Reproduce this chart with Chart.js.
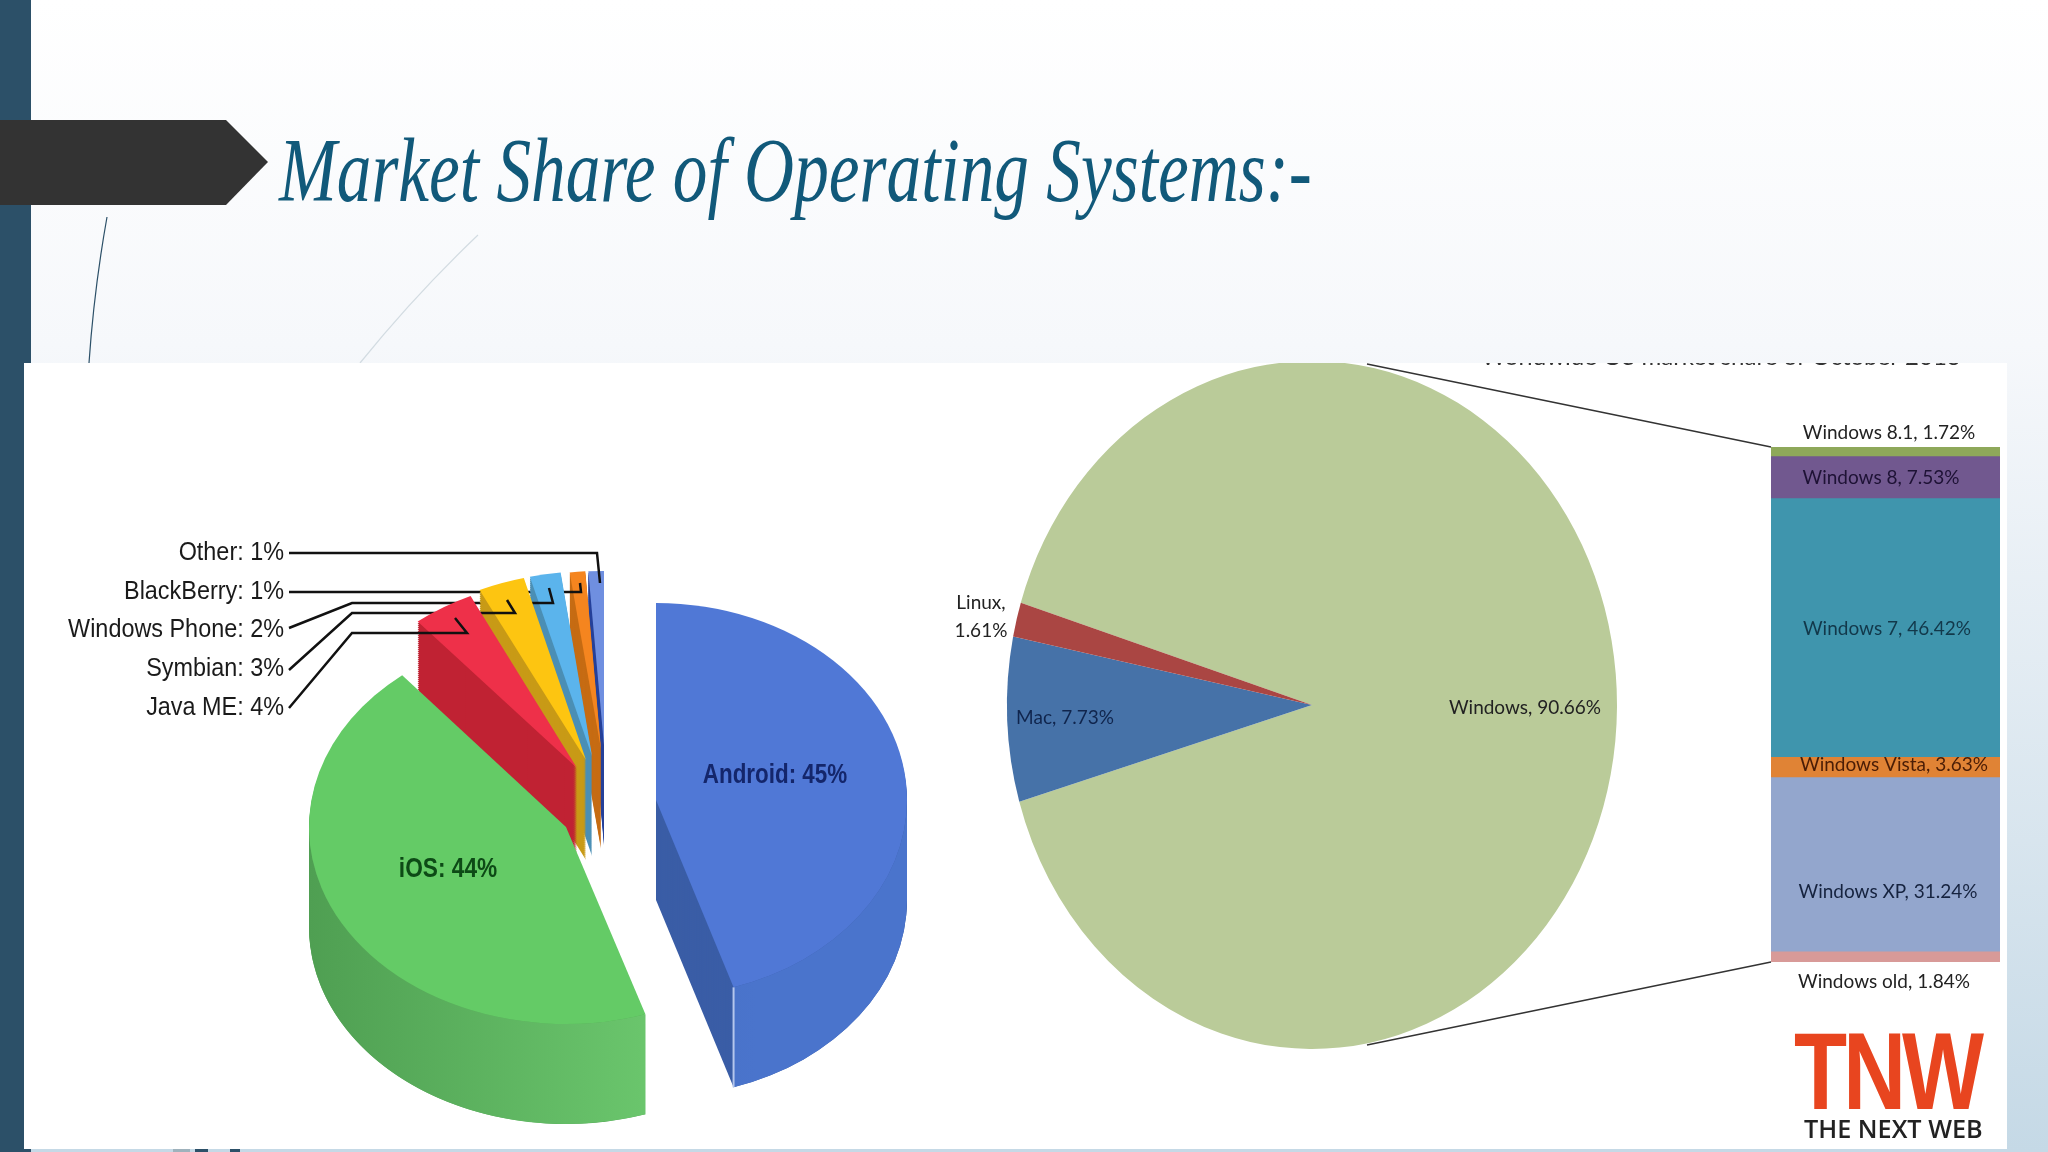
<!DOCTYPE html>
<html lang="en">
<head>
<meta charset="UTF-8">
<title>Market Share of Operating Systems</title>
<script src="https://cdn.jsdelivr.net/npm/chart.js"></script>
<style>
    html, body { margin: 0; padding: 0; width: 2048px; height: 1152px; overflow: hidden; }
    body { position: relative; background: linear-gradient(180deg, #ffffff 0, #f6f8fb 30%, #c5d9e6 100%); }
    .abs { position: absolute; }
    #decor { left: 0; top: 0; }
    #card { left: 24px; top: 363px; width: 1983px; height: 786px; background: #fff; }
    #title {
        left: 279px; top: 126px; white-space: nowrap; color: #11597a;
        font: italic 90px/90px "Liberation Serif", serif;
        transform: scaleX(0.77); transform-origin: left top;
    }
    #tnw {
        left: 1794px; top: 1016px; color: #e8451f; white-space: nowrap;
        font: bold 110px/110px "Liberation Sans", sans-serif; letter-spacing: -5px;
        transform: scaleX(0.79); transform-origin: left top;
    }
    #tnw-sub {
        left: 1804px; top: 1111px; color: #222; white-space: nowrap;
        font: 600 26px/34px "Open Sans", sans-serif;
        transform: scaleX(0.97); transform-origin: left top;
    }
    canvas { position: absolute; }
</style>
</head>
<body>
    <svg id="decor" class="abs" width="2048" height="1152">
        <rect x="0" y="0" width="31" height="1152" fill="#2c5068"/>
        <polygon points="0,120 226,120 268,162 226,205 0,205" fill="#333333"/>
        <path d="M107 217 Q94 290 89 363" stroke="#2c5068" stroke-width="1.2" fill="none"/>
        <path d="M478 235 Q415 295 360 363" stroke="#d3dce2" stroke-width="1.2" fill="none"/>
        <rect x="173" y="1149" width="17" height="3" fill="#9fb2bc"/>
        <rect x="195" y="1149" width="13" height="3" fill="#2c5068"/>
        <rect x="230" y="1149" width="10" height="3" fill="#2c5068"/>
    </svg>
    <div id="card" class="abs"></div>
    <div id="title" class="abs">Market Share of Operating Systems:-</div>

    <canvas id="mobileChart" width="900" height="786" style="left:24px;top:363px"></canvas>
    <canvas id="desktopChart" width="740" height="786" style="left:924px;top:363px"></canvas>
    <canvas id="windowsChart" width="647" height="786" style="left:1360px;top:363px"></canvas>

    <div id="tnw" class="abs">TNW</div>
    <div id="tnw-sub" class="abs">THE NEXT WEB</div>

<script>
    // --- data ---
    const mobileNames = ['Android', 'iOS', 'Java ME', 'Symbian', 'Windows Phone', 'BlackBerry', 'Other'];
    const mobileValues = [45, 44, 4, 3, 2, 1, 1];
    const desktopNames = ['Windows', 'Mac', 'Linux'];
    const desktopValues = [90.66, 7.73, 1.61];
    const windowsNames = ['Windows old', 'Windows XP', 'Windows Vista', 'Windows 7', 'Windows 8', 'Windows 8.1'];
    const windowsValues = [1.84, 31.24, 3.63, 46.42, 7.53, 1.72];

    // --- colours and look ---
    const mobileColors = ['#5078d6', '#64cb66', '#ee3049', '#fdc511', '#5bb4ec', '#f5851f', '#6f8fe0'];
    const desktopColors = ['#bacb99', '#4672a8', '#aa4643'];
    const windowsColors = ['#d89a98', '#93a6cd', '#e08335', '#3f95ad', '#71588f', '#8ea85a'];

    // the left pie is exploded and tilted, every slice sits on its own spot (page coords)
    const OX = 24, OY = 363;
    const mobileFaces = [
        { i: 6, cx: 604, cy: 745, rx: 250, ry: 174, side: '#27409a', rim: '#27409a',
          leader: [[289, 553], [597, 553], [600, 583]] },
        { i: 5, cx: 601, cy: 749, rx: 250, ry: 178, side: '#c66c14', rim: '#c66c14',
          leader: [[289, 592], [581, 592], [580, 583]] },
        { i: 4, cx: 592, cy: 756, rx: 250, ry: 185, side: '#4b8fb5', rim: '#4b8fb5',
          leader: [[289, 628], [352, 603], [553, 603], [549, 588]] },
        { i: 3, cx: 586, cy: 760, rx: 250, ry: 188, side: '#c89a16', rim: '#c89a16',
          leader: [[289, 670], [352, 613], [515, 613], [507, 600]] },
        { i: 2, cx: 577, cy: 768, rx: 250, ry: 190, side: '#c02233', rim: '#c02233',
          leader: [[289, 708], [352, 633], [467, 633], [455, 618]] },
        { i: 1, cx: 566, cy: 827, rx: 257, ry: 197, side: '#56a958', rim: ['#4f9f52', '#6cc86e'] },
        { i: 0, cx: 656, cy: 800, rx: 251, ry: 197, side: '#3a5da6', rim: ['#3f66b0', '#4a74cc'], edge: '#b4c6ec' }
    ];
    const faceDepth = 100;

    function sector(ctx, f, arc, dy) {
        ctx.beginPath();
        ctx.moveTo(f.cx, f.cy + dy);
        ctx.ellipse(f.cx, f.cy + dy, f.rx, f.ry, 0, arc.startAngle, arc.endAngle);
        ctx.closePath();
    }

    function drawLeader(ctx, pts) {
        ctx.strokeStyle = '#111';
        ctx.lineWidth = 2.5;
        ctx.beginPath();
        pts.forEach((p, k) => k ? ctx.lineTo(p[0] - OX, p[1] - OY) : ctx.moveTo(p[0] - OX, p[1] - OY));
        ctx.stroke();
    }

    // horizontally squeezed text, the labels in the slide are narrow
    function narrowText(ctx, text, x, y, sx) {
        ctx.save();
        ctx.translate(x, y);
        ctx.scale(sx, 1);
        ctx.fillText(text, 0, 0);
        ctx.restore();
    }

    // draws the library's arcs as tilted, extruded faces
    const tiltedPie = {
        id: 'tiltedPie',
        beforeDatasetsDraw(chart) {
            const ctx = chart.ctx;
            const arcs = chart.getDatasetMeta(0).data;
            mobileFaces.forEach(raw => {
                const f = { ...raw, cx: raw.cx - OX, cy: raw.cy - OY };
                const arc = arcs[f.i];
                ctx.save();
                ctx.fillStyle = f.side;
                for (let d = faceDepth; d > 0; d -= 2) { sector(ctx, f, arc, d); ctx.fill(); }
                // outer wall, only the part facing the viewer
                const a0 = Math.max(arc.startAngle, 0);
                const a1 = Math.min(arc.endAngle, Math.PI);
                if (Array.isArray(f.rim) && a1 > a0) {
                    const g = ctx.createLinearGradient(f.cx - f.rx, 0, f.cx + f.rx * 0.4, 0);
                    g.addColorStop(0, f.rim[0]);
                    g.addColorStop(1, f.rim[1]);
                    ctx.fillStyle = g;
                    ctx.beginPath();
                    ctx.ellipse(f.cx, f.cy, f.rx, f.ry, 0, a0, a1);
                    ctx.ellipse(f.cx, f.cy + faceDepth, f.rx, f.ry, 0, a1, a0, true);
                    ctx.closePath();
                    ctx.fill();
                }
                // top face
                ctx.fillStyle = arc.options.backgroundColor;
                sector(ctx, f, arc, 0);
                ctx.fill();
                if (f.edge) {
                    const ex = f.cx + f.rx * Math.cos(arc.endAngle);
                    const ey = f.cy + f.ry * Math.sin(arc.endAngle);
                    ctx.strokeStyle = f.edge;
                    ctx.lineWidth = 2;
                    ctx.beginPath();
                    ctx.moveTo(ex, ey);
                    ctx.lineTo(ex, ey + faceDepth);
                    ctx.stroke();
                }
                if (f.leader) drawLeader(ctx, f.leader);
                ctx.restore();
            });

            // labels
            const labelY = [553, 592, 630, 669, 708];
            ctx.save();
            ctx.font = '26px "Liberation Sans", sans-serif';
            ctx.fillStyle = '#1a1a1a';
            ctx.textAlign = 'right';
            ctx.textBaseline = 'middle';
            [6, 5, 4, 3, 2].forEach((i, k) => {
                narrowText(ctx, mobileNames[i] + ': ' + mobileValues[i] + '%', 284 - OX, labelY[k] - OY, 0.9);
            });
            ctx.textAlign = 'center';
            ctx.font = 'bold 27px "Liberation Sans", sans-serif';
            ctx.fillStyle = '#14266b';
            narrowText(ctx, mobileNames[0] + ': ' + mobileValues[0] + '%', 775 - OX, 776 - OY, 0.83);
            ctx.fillStyle = '#0d4a16';
            narrowText(ctx, mobileNames[1] + ': ' + mobileValues[1] + '%', 448 - OX, 870 - OY, 0.84);
            ctx.restore();
            return false;
        }
    };

    new Chart(document.getElementById('mobileChart'), {
        type: 'pie',
        data: { labels: mobileNames, datasets: [{ data: mobileValues, backgroundColor: mobileColors, borderWidth: 0 }] },
        options: {
            responsive: false, animation: false, events: [],
            plugins: { legend: { display: false }, tooltip: { enabled: false } }
        },
        plugins: [tiltedPie]
    });

    // right pie is stretched taller than wide in the slide
    const PX = 924;
    const stretchedPie = {
        id: 'stretchedPie',
        beforeDatasetsDraw(chart) {
            const ctx = chart.ctx;
            const f = { cx: 1312 - PX, cy: 705 - OY, rx: 305, ry: 344 };
            chart.getDatasetMeta(0).data.forEach(arc => {
                ctx.fillStyle = arc.options.backgroundColor;
                sector(ctx, f, arc, 0);
                ctx.fill();
            });
            ctx.save();
            ctx.font = '19px Lato, sans-serif';
            ctx.fillStyle = '#222';
            ctx.textAlign = 'center';
            ctx.textBaseline = 'middle';
            ctx.fillText(desktopNames[0] + ', ' + desktopValues[0] + '%', 1525 - PX, 708 - OY);
            ctx.fillStyle = '#10254d';
            ctx.fillText(desktopNames[1] + ', ' + desktopValues[1] + '%', 1065 - PX, 718 - OY);
            ctx.fillStyle = '#222';
            ctx.fillText(desktopNames[2] + ',', 981 - PX, 603 - OY);
            ctx.fillText(desktopValues[2] + '%', 981 - PX, 631 - OY);
            ctx.restore();
            return false;
        }
    };

    new Chart(document.getElementById('desktopChart'), {
        type: 'pie',
        data: { labels: desktopNames, datasets: [{ data: desktopValues, backgroundColor: desktopColors, borderWidth: 0 }] },
        options: {
            responsive: false, animation: false, events: [], rotation: 287.3,
            plugins: { legend: { display: false }, tooltip: { enabled: false } }
        },
        plugins: [stretchedPie]
    });

    // stacked column with the Windows versions
    const BX = 1360;
    const windowsLabelX = [1884, 1888, 1894, 1887, 1881, 1889];
    const windowsLabelDy = [25, 27, -3, 1, 0, -19];
    const windowsLabelColor = ['#222', '#16233f', '#4a1d06', '#12384a', '#1e1235', '#222'];
    const windowsTotal = windowsValues.reduce((a, b) => a + b, 0);

    const windowsDecor = {
        id: 'windowsDecor',
        afterDatasetsDraw(chart) {
            const ctx = chart.ctx;
            const area = chart.chartArea;
            const y = chart.scales.y;
            ctx.save();
            // connectors back to the pie
            ctx.strokeStyle = '#333';
            ctx.lineWidth = 1.5;
            ctx.beginPath();
            ctx.moveTo(1367 - BX, 364 - OY);
            ctx.lineTo(area.left, area.top);
            ctx.moveTo(1367 - BX, 1045 - OY);
            ctx.lineTo(area.left, area.bottom);
            ctx.stroke();
            // clipped caption at the top of the pasted picture
            ctx.font = '24px Lato, sans-serif';
            ctx.fillStyle = '#333';
            ctx.textAlign = 'center';
            ctx.textBaseline = 'alphabetic';
            ctx.fillText('Worldwide OS market share of October 2013', 1721 - BX, 2);
            // segment labels
            ctx.font = '19px Lato, sans-serif';
            ctx.textBaseline = 'middle';
            let sum = 0;
            windowsValues.forEach((v, i) => {
                const mid = y.getPixelForValue(sum + v / 2);
                sum += v;
                ctx.fillStyle = windowsLabelColor[i];
                ctx.fillText(windowsNames[i] + ', ' + v + '%', windowsLabelX[i] - BX, mid + windowsLabelDy[i]);
            });
            ctx.restore();
        }
    };

    new Chart(document.getElementById('windowsChart'), {
        type: 'bar',
        data: {
            labels: ['Windows'],
            datasets: windowsNames.map((n, i) => ({
                label: n, data: [windowsValues[i]], backgroundColor: windowsColors[i],
                borderWidth: 0, barPercentage: 1, categoryPercentage: 1
            }))
        },
        options: {
            responsive: false, animation: false, events: [],
            layout: { padding: { left: 411, right: 7, top: 84, bottom: 187 } },
            scales: {
                x: { stacked: true, display: false },
                y: { stacked: true, display: false, min: 0, max: windowsTotal }
            },
            plugins: { legend: { display: false }, tooltip: { enabled: false } }
        },
        plugins: [windowsDecor]
    });
</script>
</body>
</html>
